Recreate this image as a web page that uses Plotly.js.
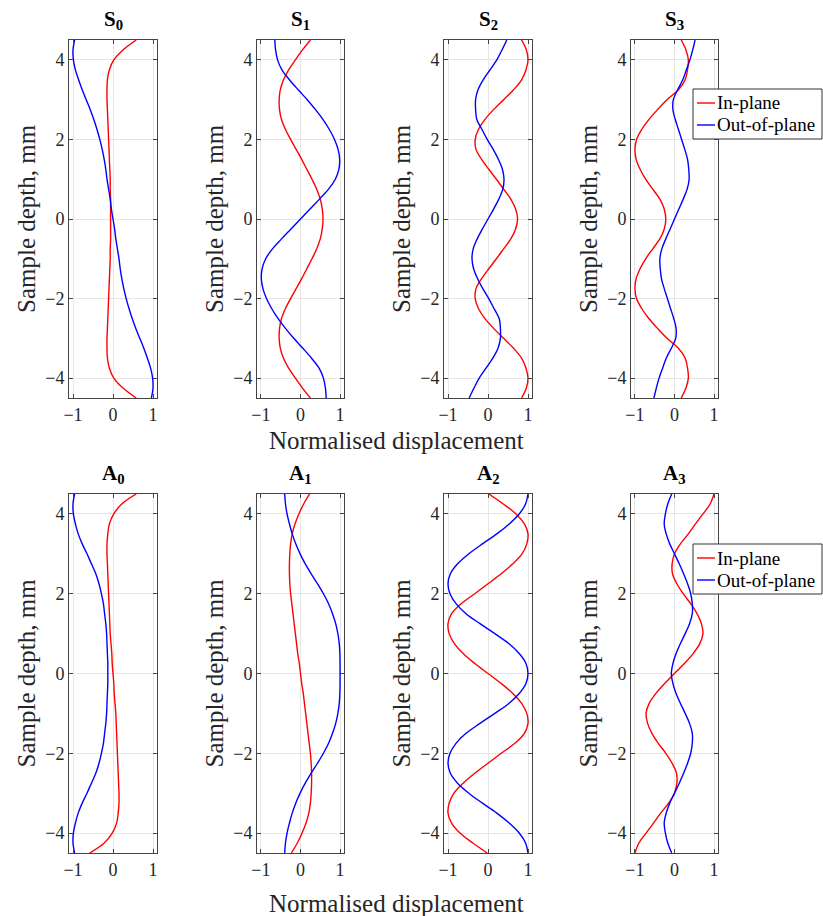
<!DOCTYPE html>
<html>
<head>
<meta charset="utf-8">
<script src="https://cdn.plot.ly/plotly-3.0.1.min.js"></script>
<style>html,body{margin:0;padding:0;background:#fff;}#chart{width:823px;height:916px;}</style>
</head>
<body>
<div id="chart"></div>
<script>
// Sample depth (mm), top to bottom
const depth = [4.5,4.25,4,3.75,3.5,3.25,3,2.75,2.5,2.25,2,1.75,1.5,1.25,1,0.75,0.5,0.25,0,-0.25,-0.5,-0.75,-1,-1.25,-1.5,-1.75,-2,-2.25,-2.5,-2.75,-3,-3.25,-3.5,-3.75,-4,-4.25,-4.5];

const modeTitles = ['S<sub>0</sub>','S<sub>1</sub>','S<sub>2</sub>','S<sub>3</sub>','A<sub>0</sub>','A<sub>1</sub>','A<sub>2</sub>','A<sub>3</sub>'];
const seriesNames = ['In-plane','Out-of-plane'];
const seriesColors = ['#ff0000','#0000ff'];
const xTickVals = [-1,0,1];
const yTickVals = [-4,-2,0,2,4];

// In-plane (red) and out-of-plane (blue) normalised displacement
const s0In  = [0.58,0.25,0.02,-0.09,-0.14,-0.15,-0.15,-0.14,-0.13,-0.12,-0.11,-0.10,-0.09,-0.08,-0.07,-0.07,-0.06,-0.06,-0.06,-0.06,-0.06,-0.07,-0.07,-0.08,-0.09,-0.10,-0.11,-0.12,-0.13,-0.14,-0.15,-0.15,-0.14,-0.09,0.02,0.25,0.58];
const s0Out = [-0.96,-1.0,-0.99,-0.94,-0.86,-0.77,-0.67,-0.57,-0.48,-0.40,-0.33,-0.27,-0.22,-0.18,-0.15,-0.11,-0.07,-0.04,0,0.04,0.07,0.11,0.15,0.18,0.22,0.27,0.33,0.40,0.48,0.57,0.67,0.77,0.86,0.94,0.99,1.0,0.96];

const s1In  = [0.25,0.05,-0.13,-0.30,-0.43,-0.51,-0.54,-0.53,-0.48,-0.38,-0.25,-0.11,0.03,0.16,0.29,0.41,0.50,0.55,0.57,0.55,0.50,0.41,0.29,0.16,0.03,-0.11,-0.25,-0.38,-0.48,-0.53,-0.54,-0.51,-0.43,-0.30,-0.13,0.05,0.25];
const s1Out = [-0.65,-0.63,-0.58,-0.47,-0.28,-0.06,0.17,0.38,0.57,0.73,0.86,0.95,0.99,0.97,0.88,0.71,0.48,0.24,0,-0.24,-0.48,-0.71,-0.88,-0.97,-0.99,-0.95,-0.86,-0.73,-0.57,-0.38,-0.17,0.06,0.28,0.47,0.58,0.63,0.65];

const s2In  = [0.84,0.96,1.0,0.95,0.84,0.64,0.39,0.14,-0.08,-0.24,-0.32,-0.30,-0.16,0.02,0.21,0.39,0.57,0.69,0.74,0.69,0.57,0.39,0.21,0.02,-0.16,-0.30,-0.32,-0.24,-0.08,0.14,0.39,0.64,0.84,0.95,1.0,0.96,0.84];
const s2Out = [0.47,0.35,0.22,0.05,-0.12,-0.25,-0.31,-0.31,-0.28,-0.15,-0.02,0.13,0.26,0.36,0.40,0.37,0.27,0.14,0,-0.14,-0.27,-0.37,-0.40,-0.36,-0.26,-0.13,0.02,0.15,0.28,0.31,0.31,0.25,0.12,-0.05,-0.22,-0.35,-0.47];

const s3In  = [0.17,0.29,0.35,0.33,0.27,0.10,-0.19,-0.43,-0.65,-0.83,-0.96,-1.0,-0.97,-0.87,-0.73,-0.55,-0.37,-0.26,-0.22,-0.26,-0.37,-0.55,-0.73,-0.87,-0.97,-1.0,-0.96,-0.83,-0.65,-0.43,-0.19,0.10,0.27,0.33,0.35,0.29,0.17];
const s3Out = [0.52,0.46,0.39,0.30,0.21,0.08,-0.03,-0.04,0.02,0.10,0.18,0.26,0.33,0.36,0.37,0.32,0.22,0.11,0,-0.11,-0.22,-0.32,-0.37,-0.36,-0.33,-0.26,-0.18,-0.10,-0.02,0.04,0.03,-0.08,-0.21,-0.30,-0.39,-0.46,-0.52];

const a0In  = [0.58,0.22,0.02,-0.09,-0.13,-0.15,-0.15,-0.14,-0.13,-0.12,-0.11,-0.10,-0.09,-0.08,-0.07,-0.05,-0.03,-0.02,0,0.02,0.03,0.05,0.07,0.08,0.09,0.10,0.11,0.12,0.13,0.14,0.15,0.15,0.13,0.09,-0.02,-0.22,-0.58];
const a0Out = [-0.96,-1.0,-0.99,-0.94,-0.87,-0.77,-0.65,-0.54,-0.43,-0.35,-0.29,-0.24,-0.21,-0.18,-0.16,-0.15,-0.14,-0.13,-0.13,-0.13,-0.14,-0.15,-0.16,-0.18,-0.21,-0.24,-0.29,-0.35,-0.43,-0.54,-0.65,-0.77,-0.87,-0.94,-0.99,-1.0,-0.96];

const a1In  = [0.23,0.08,-0.04,-0.14,-0.21,-0.25,-0.27,-0.28,-0.28,-0.27,-0.25,-0.22,-0.19,-0.16,-0.13,-0.10,-0.07,-0.03,0,0.03,0.07,0.10,0.13,0.16,0.19,0.22,0.25,0.27,0.28,0.28,0.27,0.25,0.21,0.14,0.04,-0.08,-0.23];
const a1Out = [-0.40,-0.38,-0.34,-0.28,-0.21,-0.12,-0.01,0.12,0.27,0.43,0.58,0.71,0.81,0.89,0.945,0.98,0.995,1.0,1.0,1.0,0.995,0.98,0.945,0.89,0.81,0.71,0.58,0.43,0.27,0.12,-0.01,-0.12,-0.21,-0.28,-0.34,-0.38,-0.40];

const a2In  = [0.02,0.38,0.70,0.91,1.0,0.97,0.85,0.62,0.33,0.0,-0.33,-0.67,-0.91,-1.0,-0.97,-0.84,-0.62,-0.33,0,0.33,0.62,0.84,0.97,1.0,0.91,0.67,0.33,0.0,-0.33,-0.62,-0.85,-0.97,-1.0,-0.91,-0.70,-0.38,-0.02];
const a2Out = [1.0,0.94,0.78,0.53,0.22,-0.14,-0.48,-0.76,-0.94,-1.0,-0.95,-0.80,-0.55,-0.20,0.17,0.52,0.78,0.95,1.0,0.95,0.78,0.52,0.17,-0.20,-0.55,-0.80,-0.95,-1.0,-0.94,-0.76,-0.48,-0.14,0.22,0.53,0.78,0.94,1.0];

const a3In  = [1.0,0.90,0.72,0.53,0.35,0.15,0.0,-0.06,-0.05,0.06,0.22,0.41,0.57,0.68,0.72,0.64,0.47,0.25,0,-0.25,-0.47,-0.64,-0.72,-0.68,-0.57,-0.41,-0.22,-0.06,0.05,0.06,0.0,-0.15,-0.35,-0.53,-0.72,-0.90,-1.0];
const a3Out = [-0.07,-0.17,-0.23,-0.26,-0.21,-0.12,0.0,0.12,0.23,0.33,0.41,0.45,0.45,0.38,0.27,0.15,0.04,-0.04,-0.08,-0.04,0.04,0.15,0.27,0.38,0.45,0.45,0.41,0.33,0.23,0.12,0.0,-0.12,-0.21,-0.26,-0.23,-0.17,-0.07];

const inPlane  = [s0In, s1In, s2In, s3In, a0In, a1In, a2In, a3In];
const outPlane = [s0Out, s1Out, s2Out, s3Out, a0Out, a1Out, a2Out, a3Out];

// ---- layout geometry (pixels) ----
const W = 823, H = 916;
const colPx = [[69,157],[257,344],[444,532],[631,718]];
const rowPx = [[40,398],[494,853]];
const legendTopPx = [89, 544];
const serif = '"Liberation Serif", "DejaVu Serif", serif';
const px2x = p => p / W;
const px2y = p => 1 - p / H;

const traces = [];
const layout = {
  width: W, height: H,
  margin: {l:0, r:0, t:0, b:0},
  paper_bgcolor: '#fff', plot_bgcolor: '#fff',
  font: {family: serif, color: '#262626', size: 17},
  showlegend: false,
  annotations: [],
  shapes: []
};

for (let i = 0; i < 8; i++) {
  const r = Math.floor(i / 4), c = i % 4;
  const n = i + 1;
  const xa = n === 1 ? 'x' : 'x' + n;
  const ya = n === 1 ? 'y' : 'y' + n;
  const xKey = n === 1 ? 'xaxis' : 'xaxis' + n;
  const yKey = n === 1 ? 'yaxis' : 'yaxis' + n;

  [inPlane[i], outPlane[i]].forEach((vals, k) => {
    traces.push({
      x: vals, y: depth, xaxis: xa, yaxis: ya, type: 'scatter', mode: 'lines',
      name: seriesNames[k], line: {color: seriesColors[k], width: 1.4, shape: 'spline', smoothing: 1},
      hoverinfo: 'skip'
    });
  });

  const common = {
    showline: true, linecolor: '#444', linewidth: 1, mirror: 'ticks',
    ticks: 'inside', ticklen: 4, tickcolor: '#444', tickwidth: 1,
    showgrid: true, gridcolor: '#e6e6e6', gridwidth: 1, zeroline: false,
    tickfont: {family: serif, size: 18, color: '#262626'},
    fixedrange: true
  };
  layout[xKey] = Object.assign({}, common, {
    domain: [px2x(colPx[c][0]), px2x(colPx[c][1])],
    range: [-1.1, 1.1], tickvals: xTickVals, anchor: ya
  });
  layout[yKey] = Object.assign({}, common, {
    domain: [px2y(rowPx[r][1]), px2y(rowPx[r][0])],
    range: [-4.5, 4.5], tickvals: yTickVals, anchor: xa
  });

  // panel title
  layout.annotations.push({
    text: '<b>' + modeTitles[i] + '</b>', xref: 'paper', yref: 'paper',
    x: px2x((colPx[c][0] + colPx[c][1]) / 2), y: px2y(rowPx[r][0] - 5),
    xanchor: 'center', yanchor: 'bottom', showarrow: false,
    font: {family: serif, size: 21, color: '#000'}
  });
  // y-axis title
  layout.annotations.push({
    text: 'Sample depth, mm', xref: 'paper', yref: 'paper',
    x: px2x(colPx[c][0] - 43), y: px2y((rowPx[r][0] + rowPx[r][1]) / 2),
    xanchor: 'center', yanchor: 'middle', textangle: -90, showarrow: false,
    font: {family: serif, size: 25, color: '#262626'}
  });
}

// shared x-axis titles
[440, 903].forEach(yc => {
  layout.annotations.push({
    text: 'Normalised displacement', xref: 'paper', yref: 'paper',
    x: px2x(396), y: px2y(yc), xanchor: 'center', yanchor: 'middle', showarrow: false,
    font: {family: serif, size: 25, color: '#262626'}
  });
});

// legend boxes (one per row, at the right-hand panel)
legendTopPx.forEach(top => {
  layout.shapes.push({
    type: 'rect', xref: 'paper', yref: 'paper', layer: 'above',
    x0: px2x(693), x1: px2x(822), y0: px2y(top + 50), y1: px2y(top),
    line: {color: '#333', width: 1}, fillcolor: '#fff'
  });
  seriesNames.forEach((name, k) => {
    const yc = top + 14 + k * 22;
    layout.shapes.push({
      type: 'line', xref: 'paper', yref: 'paper', layer: 'above',
      x0: px2x(697), x1: px2x(715), y0: px2y(yc), y1: px2y(yc),
      line: {color: seriesColors[k], width: 1.4}
    });
    layout.annotations.push({
      text: name, xref: 'paper', yref: 'paper',
      x: px2x(716), y: px2y(yc), xanchor: 'left', yanchor: 'middle', showarrow: false,
      borderpad: 0,
      font: {family: serif, size: 19, color: '#000'}
    });
  });
});

Plotly.newPlot('chart', traces, layout, {staticPlot: true, displayModeBar: false});
</script>
</body>
</html>
